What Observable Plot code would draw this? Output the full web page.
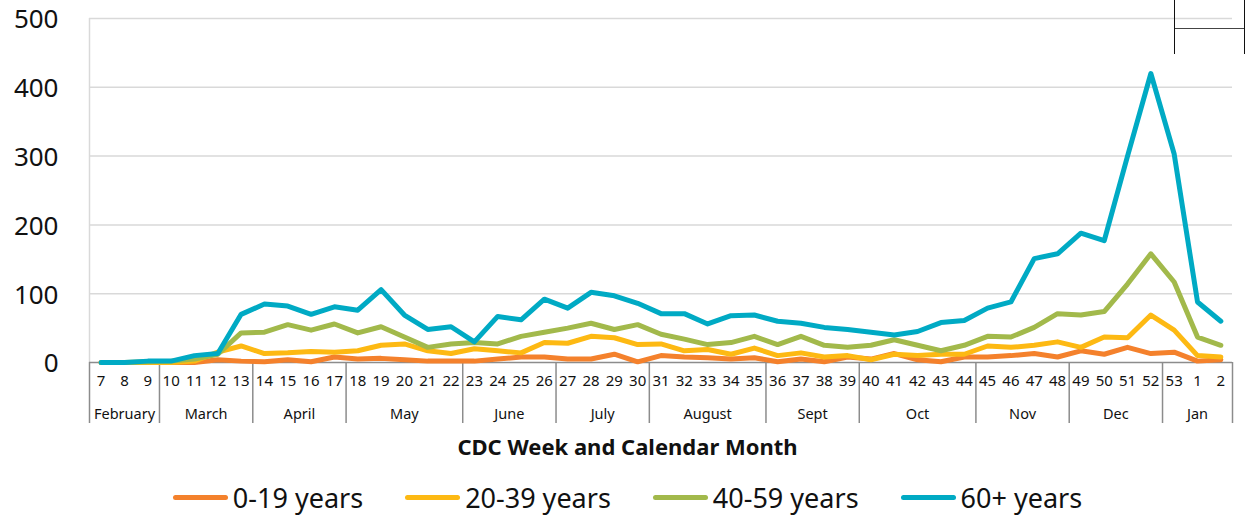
<!DOCTYPE html>
<html>
<head>
<meta charset="utf-8">
<script src="https://cdn.jsdelivr.net/npm/d3@7"></script>
<script src="https://cdn.jsdelivr.net/npm/@observablehq/plot@0.6"></script>
<style>
  body { margin: 0; background: #fff; font-family: "Noto Sans", sans-serif; }
  #wrap { position: relative; width: 1255px; height: 516px; overflow: hidden; }
  #chart svg { display: block; }
  #title { position: absolute; left: 0; top: 432px; width: 1255px; height: 28px; line-height: 28px;
           text-align: center; font-weight: bold; font-size: 22px; color: #111; }
  #legend { position: absolute; left: 0; top: 478px; width: 1255px; height: 38px; display: flex;
            justify-content: center; align-items: center; gap: 42px; font-size: 27px; color: #111; }
  .item { display: flex; align-items: center; gap: 5px; }
  .sw { display: inline-block; width: 55px; height: 5px; border-radius: 3px; }
  #box { position: absolute; left: 1174px; top: -2px; width: 69px; height: 56px;
         border-left: 1.5px solid #111; border-right: 1.5px solid #111; }
  #box div { position: absolute; left: 0; right: 0; top: 30px; border-top: 1.5px solid #444; }
</style>
</head>
<body>
<div id="wrap">
  <div id="chart"></div>
  <div id="title">CDC Week and Calendar Month</div>
  <div id="legend"></div>
  <div id="box"><div></div></div>
</div>
<script>
// CDC week labels (week 7 of 2020 through week 2 of 2021)
const weeks = ["7","8","9","10","11","12","13","14","15","16","17","18","19","20","21","22",
  "23","24","25","26","27","28","29","30","31","32","33","34","35","36","37","38","39",
  "40","41","42","43","44","45","46","47","48","49","50","51","52","53","1","2"];
const months = ["February","March","April","May","June","July","August","Sept","Oct","Nov","Dec","Jan"];
const monthWeekCounts = [3,4,4,5,4,4,5,4,5,4,4,3];
const ages = ["0-19 years","20-39 years","40-59 years","60+ years"];
const colors = ["#F4812C","#FDB913","#A2B94B","#00AAC4"];
const yTicks = [0,100,200,300,400,500];

const age0_19 = [0,0,0,0,0,4,2,1,4,1,8,5,6,4,2,2,2,5,8,8,5,5,12,1,10,8,7,5,7,1,5,1,8,
  5,13,4,1,8,8,10,13,8,17,12,22,13,15,2,4];
const age20_39 = [0,0,0,0,2,15,24,13,14,16,15,17,25,27,17,13,20,17,14,29,28,38,36,26,27,17,19,12,21,10,14,8,10,
  4,12,10,12,12,24,22,25,30,22,37,36,69,47,10,8];
const age40_59 = [0,0,1,2,5,12,43,44,55,47,56,43,52,37,22,27,29,27,38,44,50,57,48,55,41,34,26,29,38,26,38,25,22,
  25,33,25,17,25,38,37,51,71,69,74,114,158,117,37,25];
const age60plus = [0,0,2,2,10,13,70,85,82,70,81,76,106,69,48,52,30,67,62,92,79,102,97,86,71,71,56,68,69,60,57,51,48,
  44,40,45,58,61,79,88,151,158,188,177,300,420,303,88,60];

const series = [age0_19, age20_39, age40_59, age60plus];
const data = [];
series.forEach((vals, k) => vals.forEach((v, i) => data.push({age: ages[k], i, v})));

// month group boundaries and centres (in week-index units)
const boundaries = [-0.5];
const monthCenters = [];
let start = 0;
monthWeekCounts.forEach(c => {
  monthCenters.push(start + (c - 1) / 2);
  start += c;
  boundaries.push(start - 0.5);
});
const weekIdx = weeks.map((w, i) => i);

const chart = Plot.plot({
  width: 1255,
  height: 430,
  marginLeft: 89,
  marginRight: 23,
  marginTop: 18,
  marginBottom: 68,
  style: {fontFamily: "'Noto Sans', sans-serif", background: "#fff", color: "#111", overflow: "visible"},
  x: {type: "linear", domain: [-0.5, weeks.length - 0.5], axis: null},
  y: {domain: [0, 500], axis: null},
  color: {domain: ages, range: colors},
  marks: [
    Plot.ruleY(yTicks.filter(d => d > 0), {stroke: "#d9d9d9", strokeWidth: 1.5}),
    Plot.ruleX([-0.5], {stroke: "#d9d9d9", strokeWidth: 1.5}),
    Plot.ruleX(boundaries, {y1: 0, y2: 0, insetBottom: -61, stroke: "#8c8c8c", strokeWidth: 1.5}),
    Plot.ruleY([0], {stroke: "#8c8c8c", strokeWidth: 1.5}),
    Plot.text(yTicks, {x: () => -0.5, y: d => d, text: d => String(d), textAnchor: "end", dx: -31, dy: 1.5,
      fontSize: 26, fill: "#111"}),
    Plot.text(weekIdx, {x: d => d, y: () => 0, text: d => weeks[d], dy: 19, fontSize: 15, fill: "#111"}),
    Plot.text(months, {x: (d, i) => monthCenters[i], y: () => 0, text: d => d, dy: 52, fontSize: 14.5, fill: "#111"}),
    Plot.line(data, {x: "i", y: "v", stroke: "age", z: "age", strokeWidth: 5,
      strokeLinejoin: "round", strokeLinecap: "round"})
  ]
});
document.getElementById("chart").appendChild(chart);

const legend = document.getElementById("legend");
ages.forEach((a, k) => {
  const item = document.createElement("div");
  item.className = "item";
  const sw = document.createElement("span");
  sw.className = "sw";
  sw.style.background = colors[k];
  const t = document.createElement("span");
  t.textContent = a;
  item.appendChild(sw);
  item.appendChild(t);
  legend.appendChild(item);
});
</script>
</body>
</html>
